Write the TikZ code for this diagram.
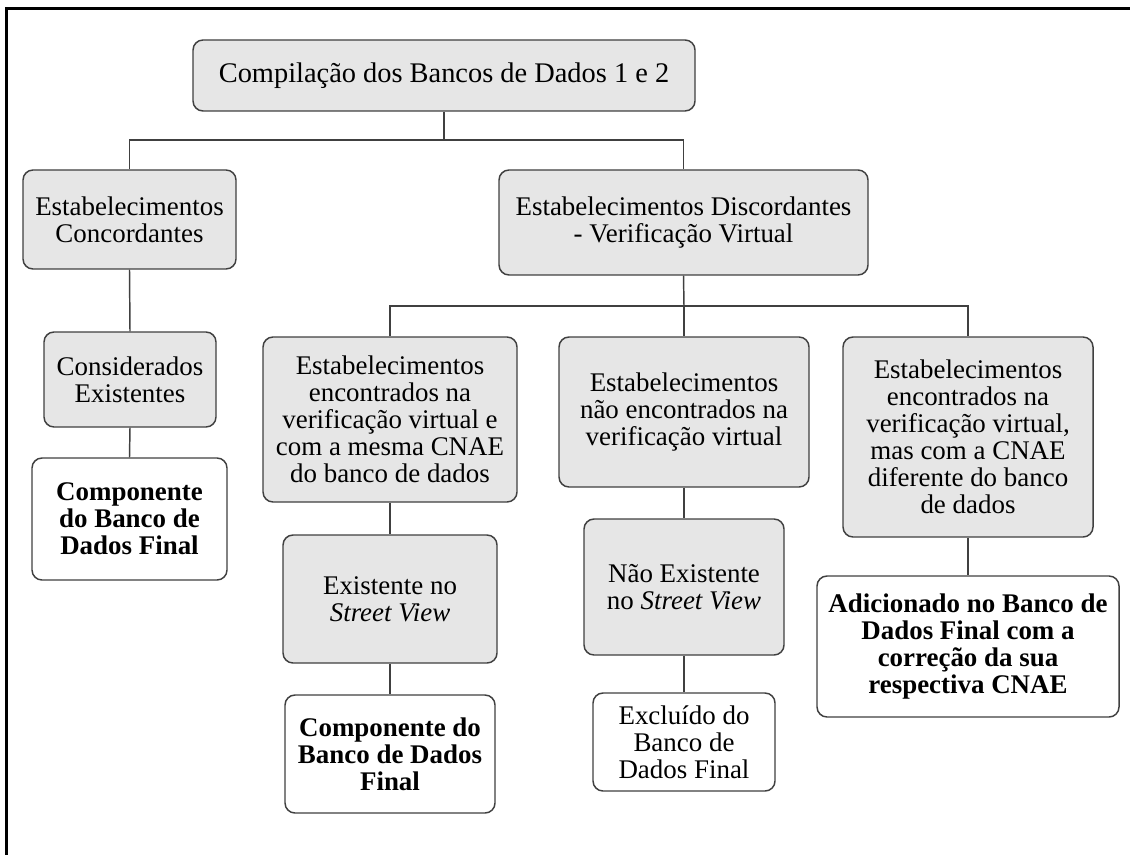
\documentclass[tikz,border=0pt]{standalone}
\usepackage{fontspec}
\setmainfont{Liberation Serif}
\definecolor{boxgray}{RGB}{230,230,230}
\definecolor{edge}{RGB}{64,64,64}
\tikzset{
  box/.style={draw=edge, line width=1.1pt, rounded corners=7.5pt, align=center, inner sep=0pt, text=black},
  graybox/.style={box, fill=boxgray},
  whitebox/.style={box, fill=white},
  sz/.style 2 args={minimum width=#1*0.75pt, minimum height=#2*0.75pt},
  fa/.style={font=\fontsize{21.3}{22}\selectfont},
  fb/.style={font=\fontsize{20.2}{20.3}\selectfont},
  fc/.style={font=\fontsize{20.2}{20.3}\selectfont},
  fd/.style={font=\fontsize{20.2}{20.3}\selectfont\bfseries},
  conn/.style={draw=edge, line width=1.1pt},
}
\begin{document}
\begin{tikzpicture}[x=0.75pt,y=-0.75pt]
\useasboundingbox (0,0) rectangle (1130,855);
\draw[line width=1.9pt, black] (6.5,855) -- (6.5,8.5) -- (1130,8.5);

\node[graybox, fa, sz={502}{71}] (top) at (444,75.5) {Compilação dos Bancos de Dados 1 e 2};
\node[graybox, fb, sz={213}{99}] (conc) at (129.5,219.5) {Estabelecimentos\\Concordantes};
\node[graybox, fb, sz={369}{105}] (disc) at (683.5,222.5) {Estabelecimentos Discordantes\\- Verificação Virtual};
\node[graybox, fc, sz={172}{95}] (cons) at (130,379.5) {Considerados\\Existentes};
\node[whitebox, fd, sz={195}{122}] (comp1) at (129.5,519) {Componente\\do Banco de\\Dados Final};
\node[graybox, fc, sz={254}{165}] (enc) at (390,419.5) {Estabelecimentos\\encontrados na\\verificação virtual e\\com a mesma CNAE\\do banco de dados};
\node[graybox, fc, sz={214}{128}] (exist) at (390,599) {Existente no\\\textit{Street View}};
\node[whitebox, fd, sz={210}{118}] (comp2) at (390,754) {Componente do\\Banco de Dados\\Final};
\node[graybox, fc, sz={250}{150}] (naoenc) at (684,412) {Estabelecimentos\\não encontrados na\\verificação virtual};
\node[graybox, fc, sz={200}{136}] (naoexist) at (684,587) {Não Existente\\no \textit{Street View}};
\node[whitebox, fc, sz={182}{98}] (excl) at (684,742) {Excluído do\\Banco de\\Dados Final};
\node[graybox, fc, sz={250}{200}] (dif) at (968,437) {Estabelecimentos\\encontrados na\\verificação virtual,\\mas com a CNAE\\diferente do banco\\de dados};
\node[whitebox, fd, sz={302}{141}] (adic) at (968,646.5) {Adicionado no Banco de\\Dados Final com a\\correção da sua\\respectiva CNAE};

\coordinate (j1) at (444,140);
\coordinate (j2) at (684,306);
\draw[conn] (top.south) -- (j1);
\draw[conn] (conc.north) |- (j1) -| (disc.north);
\draw[conn] (disc.south) -- (j2);
\draw[conn] (enc.north) |- (j2) -| (dif.north);
\draw[conn] (j2) -- (naoenc.north);
\draw[conn] (conc.south) -- (cons.north);
\draw[conn] (cons.south) -- (comp1.north);
\draw[conn] (enc.south) -- (exist.north);
\draw[conn] (exist.south) -- (comp2.north);
\draw[conn] (naoenc.south) -- (naoexist.north);
\draw[conn] (naoexist.south) -- (excl.north);
\draw[conn] (dif.south) -- (adic.north);
\end{tikzpicture}
\end{document}
